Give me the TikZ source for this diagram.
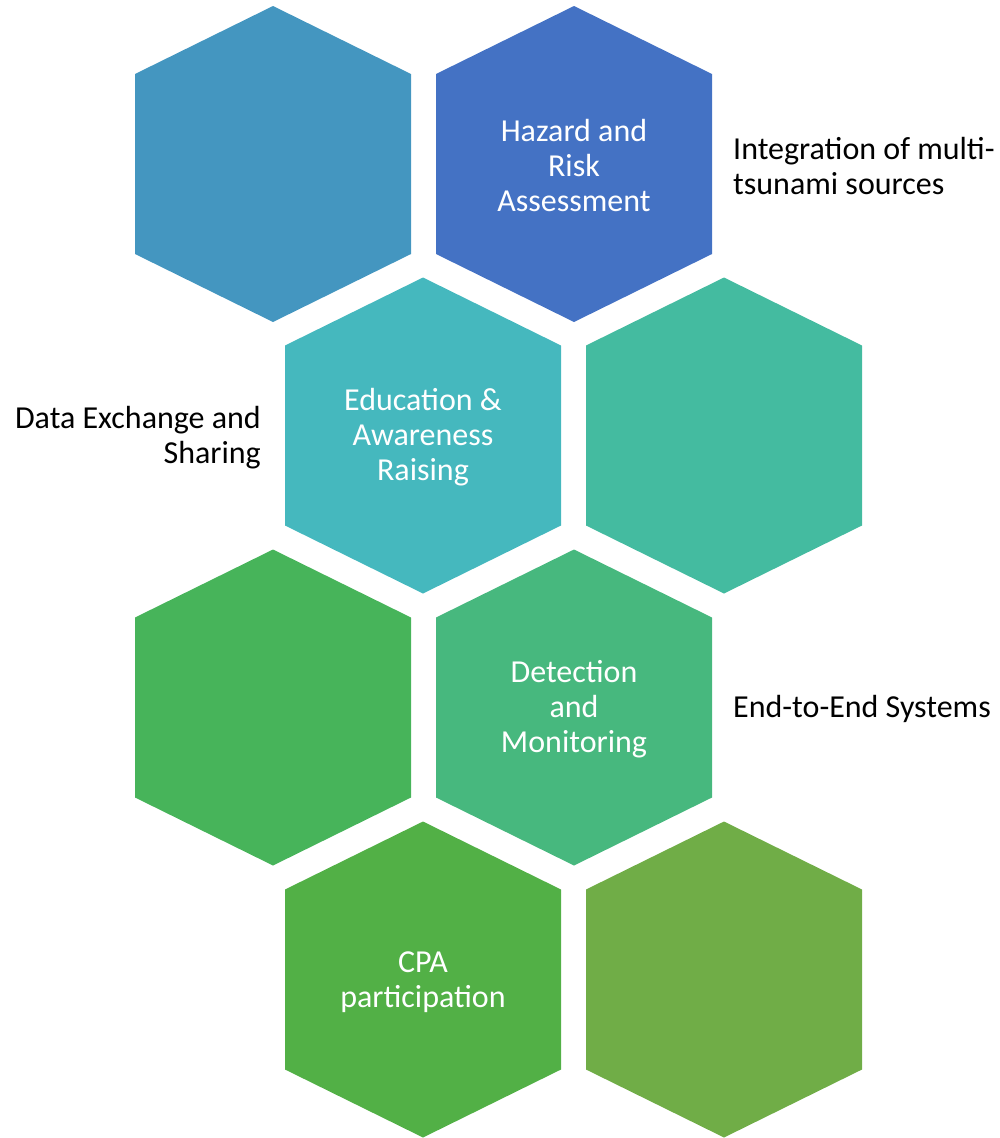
\documentclass[tikz,border=0pt]{standalone}
\usepackage{fontspec}
\setmainfont{Carlito}
\definecolor{hexA}{RGB}{68,150,192}
\definecolor{hexB}{RGB}{68,114,196}
\definecolor{hexC}{RGB}{69,184,190}
\definecolor{hexD}{RGB}{68,187,160}
\definecolor{hexE}{RGB}{71,180,90}
\definecolor{hexF}{RGB}{71,184,126}
\definecolor{hexG}{RGB}{82,176,70}
\definecolor{hexH}{RGB}{112,173,71}
\newcommand{\hexat}[3]{%
  \fill[#3] (#1,#2-158) -- (#1+138,#2-90) -- (#1+138,#2+90) -- (#1,#2+158) -- (#1-138,#2+90) -- (#1-138,#2-90) -- cycle;}
\tikzset{
  hextext/.style={text=white, align=center, inner sep=0pt, font=\fontsize{32}{35}\selectfont},
  sidetext/.style={text=black, inner sep=0pt, font=\fontsize{32}{35}\selectfont}
}
\begin{document}
\begin{tikzpicture}[x=1pt,y=-1pt]
\useasboundingbox (0,0) rectangle (1000,1138);
\hexat{273}{164}{hexA}
\hexat{574}{164}{hexB}
\hexat{423}{435.5}{hexC}
\hexat{724}{435.5}{hexD}
\hexat{273}{707.5}{hexE}
\hexat{574}{707.5}{hexF}
\hexat{423}{979.5}{hexG}
\hexat{724}{979.5}{hexH}
\node[hextext] (hra) at (574,165.5) {Hazard and\\Risk\\Assessment};
\node[hextext] (edu) at (423,437.5) {Education \&\\Awareness\\Raising};
\node[hextext] (det) at (574,709.5) {Detection\\and\\Monitoring};
\node[hextext] (cpa) at (423,982) {CPA\\participation};
\node[sidetext, align=left, anchor=west] (integ) at (733,166) {Integration of multi-\\tsunami sources};
\node[sidetext, align=right, anchor=east] (data) at (261,437.5) {Data Exchange and\\Sharing};
\node[sidetext, anchor=west] (e2e) at (733,709) {End-to-End Systems};
\end{tikzpicture}
\end{document}
